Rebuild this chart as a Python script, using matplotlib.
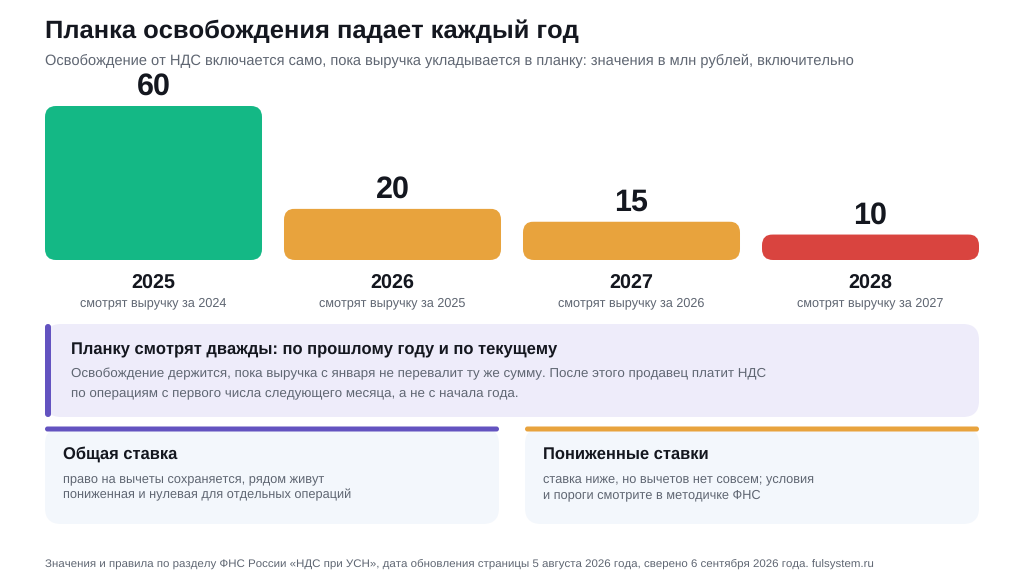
import matplotlib
matplotlib.use('Agg')
import matplotlib.pyplot as plt
from matplotlib.patches import FancyBboxPatch

plt.rcParams['font.family'] = ['Liberation Sans', 'DejaVu Sans']
# hinting_factor 8 keeps fractional widths, liberation rounds ppem otherwise
plt.rcParams['text.hinting'] = 'no_hinting'
plt.rcParams['text.hinting_factor'] = 8
plt.rcParams['text.kerning_factor'] = 6

years = ['2025', '2026', '2027', '2028']
limits = [60, 20, 15, 10]
subs = ['смотрят выручку за 2024', 'смотрят выручку за 2025', 'смотрят выручку за 2026', 'смотрят выручку за 2027']
bar_colors = ['#14b885', '#e8a33d', '#e8a33d', '#d9443f']

title = 'Планка освобождения падает каждый год'
subtitle = 'Освобождение от НДС включается само, пока выручка укладывается в планку: значения в млн рублей, включительно'
note_head = 'Планку смотрят дважды: по прошлому году и по текущему'
note_lines = ['Освобождение держится, пока выручка с января не перевалит ту же сумму. После этого продавец платит НДС',
              'по операциям с первого числа следующего месяца, а не с начала года.']
card_heads = ['Общая ставка', 'Пониженные ставки']
card_lines = [['право на вычеты сохраняется, рядом живут', 'пониженная и нулевая для отдельных операций'],
              ['ставка ниже, но вычетов нет совсем; условия', 'и пороги смотрите в методичке ФНС']]
footer = 'Значения и правила по разделу ФНС России «НДС при УСН», дата обновления страницы 5 августа 2026 года, сверено 6 сентября 2026 года. fulsystem.ru'

INK = '#14171f'
GREY = '#5f6672'

W, H = 1024, 576
fig = plt.figure(figsize=(W/100, H/100), dpi=100, facecolor='white')

# overlay in pixel coords for text and panels
bg = fig.add_axes([0, 0, 1, 1])
bg.set_xlim(0, W)
bg.set_ylim(H, 0)
bg.axis('off')


def box(x, y, w, h, r, color, z=1):
    p = FancyBboxPatch((x+r, y+r), w-2*r, h-2*r, boxstyle='round,pad=%f,rounding_size=%f' % (r, r),
                       fc=color, ec='none', lw=0, zorder=z)
    bg.add_patch(p)
    return p


def txt(x, y, s, size, color=GREY, weight='normal', ha='left'):
    bg.text(x, y, s, fontsize=size, color=color, fontweight=weight, ha=ha, va='baseline', zorder=5)


# chart axes: baseline y=260, top y=106
ax = fig.add_axes([45/W, 1-260/H, (979-45)/W, (260-106)/H])
ax.set_xlim(-0.454, 3.454)
ax.set_ylim(0, 60)
ax.axis('off')
ax.patch.set_alpha(0)
bars = ax.bar(range(len(years)), limits, width=0.908, color=bar_colors, lw=0)

fig.canvas.draw()
for i, b in enumerate(bars):
    # round the corners by clipping the bar, quadratic corners need a bigger r
    (x0, y0), (x1, y1) = ax.transData.transform([(b.get_x(), 0), (b.get_x()+b.get_width(), b.get_height())])
    r = 11
    clip = FancyBboxPatch((x0+r, y0+r), x1-x0-2*r, y1-y0-2*r,
                          boxstyle='round,pad=%f,rounding_size=%f' % (r, r), transform=None)
    b.set_clip_path(clip)
    b.set_snap(False)
    cx = (x0+x1)/2
    top = H-y1
    txt(cx, top-11, str(limits[i]), 22, INK, 'bold', 'center')
    txt(cx, 289, years[i], 14.2, INK, 'bold', 'center')
    txt(cx, 306, subs[i], 9.13, GREY, ha='center')

txt(45, 38, title, 18.34, INK, 'bold')
txt(45, 65, subtitle, 10.55)

# note block
box(45, 324, 934, 93, 16, '#eeecfa')
box(45, 324, 6, 93, 3, '#6353c0', 2)
txt(71, 354, note_head, 11.89, INK, 'bold')
txt(71, 377, note_lines[0], 9.63)
txt(71, 396, note_lines[1], 9.63)

# two cards
card_x = [45, 525]
card_w = [454, 454]
tops = ['#6353c0', '#e8a33d']
for i in range(2):
    box(card_x[i], 428, card_w[i], 96, 16, '#f3f7fc')
    box(card_x[i], 426.5, card_w[i], 5, 2.5, tops[i], 2)
    txt(card_x[i]+18, 459, card_heads[i], 11.93, INK, 'bold')
    txt(card_x[i]+18, 482, card_lines[i][0], 9.17)
    txt(card_x[i]+18, 498, card_lines[i][1], 9.17)

txt(45, 567, footer, 8.25)

fig.savefig('out.png', dpi=100, facecolor='white')
